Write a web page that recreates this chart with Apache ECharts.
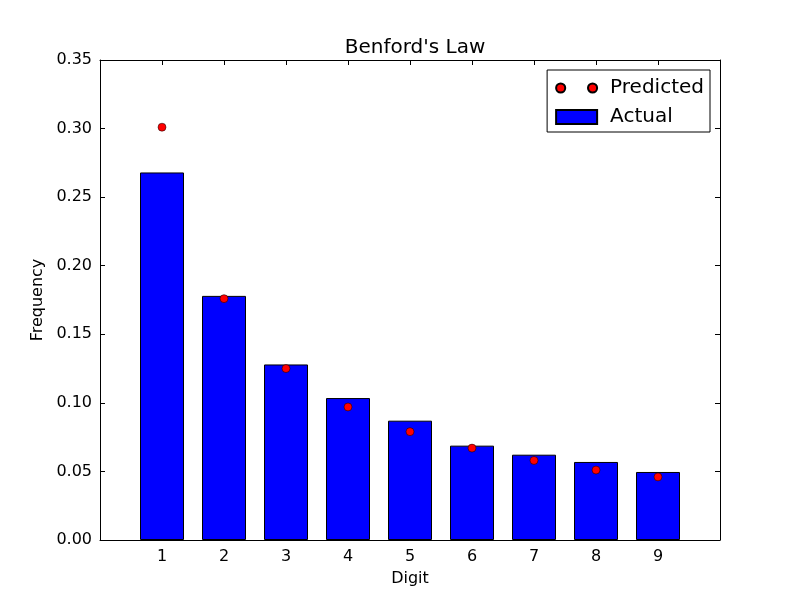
<!DOCTYPE html>
<html>
<head>
<meta charset="utf-8">
<script src="https://cdn.jsdelivr.net/npm/echarts@6/dist/echarts.min.js"></script>
<style>
  html, body { margin: 0; padding: 0; background: #fff; }
  #chart { width: 800px; height: 600px; }
</style>
</head>
<body>
<div id="chart"></div>
<script>
// data
const digits = [1, 2, 3, 4, 5, 6, 7, 8, 9];
const actual = [0.268, 0.178, 0.128, 0.1035, 0.087, 0.0688, 0.0622, 0.0569, 0.0496];
const predicted = [0.301, 0.176, 0.125, 0.097, 0.079, 0.067, 0.058, 0.051, 0.046];

const font = 'DejaVu Sans';

var chart = echarts.init(document.getElementById('chart'));

// axis helpers (classic matplotlib look: ticks point inward, box all round)
function boxAxis(extra) {
    return Object.assign({
        axisLine: { show: true, onZero: false, lineStyle: { color: '#000', width: 1 } },
        axisTick: { show: true, inside: true, length: 5, lineStyle: { color: '#000' } },
        splitLine: { show: false }
    }, extra);
}

chart.setOption({
    animation: false,
    backgroundColor: '#fff',
    title: {
        text: "Benford's Law",
        left: 410,
        top: 33,
        textAlign: 'center',
        textStyle: { fontFamily: font, fontSize: 20, fontWeight: 'normal', color: '#000' }
    },
    legend: {
        orient: 'vertical',
        right: 90,
        top: 70,
        padding: [8, 6, 5, 8],
        itemGap: 9,
        itemWidth: 41,
        itemHeight: 14,
        borderColor: '#000',
        borderWidth: 1,
        textStyle: { fontFamily: font, fontSize: 20, color: '#000', padding: [0, 0, 0, 8] },
        data: [
            { name: 'Predicted',
              icon: 'path://M2,4a4,4 0 1,0 8,0a4,4 0 1,0 -8,0Z M30,4a4,4 0 1,0 8,0a4,4 0 1,0 -8,0Z' },
            { name: 'Actual', icon: 'rect' }
        ]
    },
    grid: { left: 100, right: 80, top: 60, bottom: 60 },
    xAxis: [
        boxAxis({
            type: 'value', min: 0, max: 10, interval: 1,
            name: 'Digit', nameLocation: 'middle', nameGap: 31,
            nameTextStyle: { fontFamily: font, fontSize: 16, color: '#000' },
            axisLabel: {
                fontFamily: font, fontSize: 16, color: '#000', margin: 9,
                formatter: v => (v >= 1 && v <= 9) ? String(v) : ''
            }
        }),
        boxAxis({ type: 'value', min: 0, max: 10, interval: 1, position: 'top', axisLabel: { show: false } })
    ],
    yAxis: [
        boxAxis({
            type: 'value', min: 0, max: 0.35, interval: 0.05,
            name: 'Frequency', nameLocation: 'middle', nameGap: 50,
            nameTextStyle: { fontFamily: font, fontSize: 16, color: '#000' },
            axisLabel: {
                fontFamily: font, fontSize: 16, color: '#000', margin: 8,
                formatter: v => v.toFixed(2)
            }
        }),
        boxAxis({ type: 'value', min: 0, max: 0.35, interval: 0.05, position: 'right', axisLabel: { show: false } })
    ],
    series: [
        {
            name: 'Actual',
            type: 'bar',
            barWidth: 44,
            itemStyle: { color: '#0000ff', borderColor: '#000', borderWidth: 1 },
            data: digits.map((d, i) => [d, actual[i]]),
            z: 2
        },
        {
            name: 'Predicted',
            type: 'scatter',
            symbol: 'circle',
            symbolSize: 8,
            itemStyle: { color: '#ff0000', borderColor: '#000', borderWidth: 0.5, opacity: 1 },
            data: digits.map((d, i) => [d, predicted[i]]),
            z: 3
        }
    ]
});
</script>
</body>
</html>
